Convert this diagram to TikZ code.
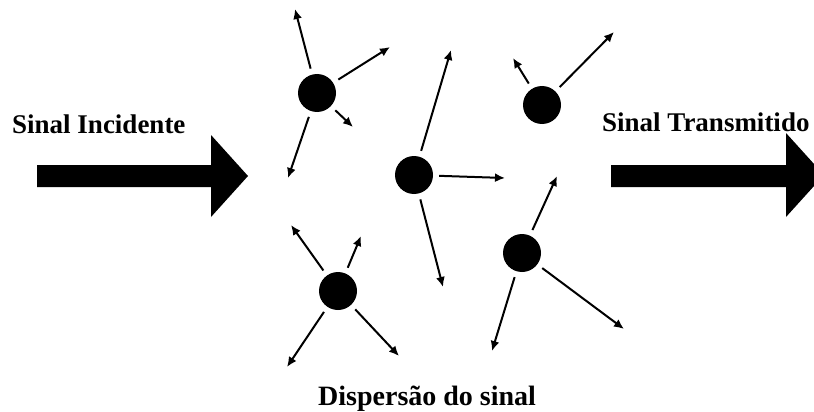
\documentclass[tikz,border=0pt]{standalone}
\usepackage{fontspec}
\setmainfont{Liberation Serif}
\usetikzlibrary{arrows.meta}
\begin{document}
\begin{tikzpicture}[x=1pt,y=-1pt,
  particle/.style={circle,fill=black,inner sep=0pt,minimum size=38pt},
  ray/.style={line width=2pt,shorten <=6pt,-{Latex[length=10pt,width=9pt]}},
  label/.style={font=\bfseries\fontsize{27}{30}\selectfont,inner sep=0pt,anchor=base west},
  bigarrow/.style={fill=black}]
\useasboundingbox (0,0) rectangle (814,412);
\clip (0,0) rectangle (814,412);

% incoming and outgoing signal arrows
\fill[bigarrow] (37,165) -- (211,165) -- (211,135) -- (248,176) -- (211,217)
  -- (211,187) -- (37,187) -- cycle;
\fill[bigarrow] (611,165) -- (786,165) -- (786,133) -- (824,175) -- (786,217)
  -- (786,187) -- (611,187) -- cycle;

\node[label] (tin) at (12,133) {Sinal Incidente};
\node[label] (tout) at (602,131) {Sinal Transmitido};
\node[label,font=\bfseries\fontsize{28}{30}\selectfont] (tdis) at (318,405) {Dispersão do sinal};

% scattering particles
\node[particle] (p1) at (317,93) {};
\node[particle] (p2) at (414,175) {};
\node[particle] (p3) at (542,105) {};
\node[particle] (p4) at (338,291) {};
\node[particle] (p5) at (522,253) {};

% scattered ray end points
\coordinate (a1) at (295,9);
\coordinate (a2) at (390,47);
\coordinate (a3) at (353,127);
\coordinate (a4) at (288,178);
\coordinate (b1) at (451,50);
\coordinate (b2) at (505,178);
\coordinate (b3) at (443,287);
\coordinate (c1) at (513,58);
\coordinate (c2) at (614,32);
\coordinate (d1) at (291,225);
\coordinate (d2) at (361,236);
\coordinate (d3) at (287,367);
\coordinate (d4) at (399,356);
\coordinate (e1) at (557,176);
\coordinate (e2) at (492,351);
\coordinate (e3) at (624,329);

\foreach \p/\t in {p1/a1,p1/a2,p1/a3,p1/a4,p2/b1,p2/b2,p2/b3,p3/c1,p3/c2,
                   p4/d1,p4/d2,p4/d3,p4/d4,p5/e1,p5/e2,p5/e3}
  \draw[ray] (\p) -- (\t);
\end{tikzpicture}
\end{document}
